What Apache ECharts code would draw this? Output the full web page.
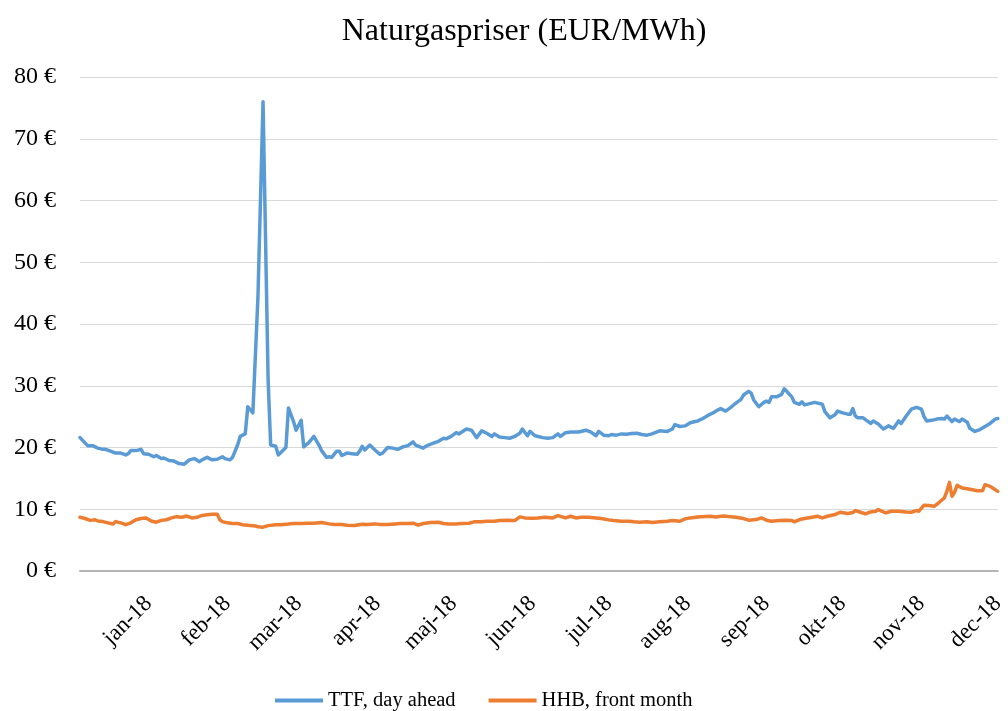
<!DOCTYPE html>
<html>
<head>
<meta charset="utf-8">
<script src="https://cdn.jsdelivr.net/npm/echarts@6/dist/echarts.min.js"></script>
<style>
html,body{margin:0;padding:0;background:#fff;}
#c{width:1008px;height:711px;}
</style>
</head>
<body>
<div id="c"></div>
<script>
// ---- data ----
const chartTitle = 'Naturgaspriser (EUR/MWh)';
const seriesNames = ['TTF, day ahead', 'HHB, front month'];
const monthNames = ['jan','feb','mar','apr','maj','jun','jul','aug','sep','okt','nov','dec'];
const monthTicks = ['2018-01-01','2018-02-01','2018-03-01','2018-04-01','2018-05-01','2018-06-01','2018-07-01','2018-08-01','2018-09-01','2018-10-01','2018-11-01','2018-12-01'];
const axisStart = '2017-12-05';
const axisEnd = '2018-12-01';
const yTicks = [0,10,20,30,40,50,60,70,80];

const ttfDates = ['2017-12-05','2017-12-08','2017-12-10','2017-12-12','2017-12-14','2017-12-15','2017-12-17','2017-12-19','2017-12-21','2017-12-23','2017-12-24','2017-12-25','2017-12-27','2017-12-29','2017-12-30',
'2018-01-01','2018-01-03','2018-01-04','2018-01-06','2018-01-07','2018-01-09','2018-01-11','2018-01-13','2018-01-15','2018-01-17','2018-01-19','2018-01-21','2018-01-22','2018-01-24','2018-01-26','2018-01-28','2018-01-30','2018-01-31',
'2018-02-02','2018-02-03','2018-02-05','2018-02-06','2018-02-08','2018-02-09','2018-02-11','2018-02-13','2018-02-15','2018-02-17','2018-02-18','2018-02-20','2018-02-21','2018-02-24','2018-02-25','2018-02-27','2018-02-28',
'2018-03-02','2018-03-03','2018-03-05','2018-03-07','2018-03-09','2018-03-10','2018-03-12','2018-03-13','2018-03-14','2018-03-16','2018-03-17','2018-03-18','2018-03-20','2018-03-22','2018-03-24','2018-03-25','2018-03-26','2018-03-27','2018-03-29','2018-03-31',
'2018-04-02','2018-04-03','2018-04-05','2018-04-07','2018-04-09','2018-04-11','2018-04-13','2018-04-15','2018-04-16','2018-04-19','2018-04-21','2018-04-23','2018-04-25','2018-04-27','2018-04-28','2018-04-30',
'2018-05-02','2018-05-03','2018-05-06','2018-05-08','2018-05-10','2018-05-12','2018-05-14','2018-05-16','2018-05-17','2018-05-19','2018-05-21','2018-05-23','2018-05-25','2018-05-27','2018-05-28','2018-05-30','2018-05-31',
'2018-06-02','2018-06-05','2018-06-07','2018-06-09','2018-06-11','2018-06-12','2018-06-14','2018-06-16','2018-06-19','2018-06-20','2018-06-22','2018-06-24','2018-06-26','2018-06-27','2018-06-29',
'2018-07-01','2018-07-02','2018-07-04','2018-07-06','2018-07-08','2018-07-10','2018-07-12','2018-07-14','2018-07-16','2018-07-18','2018-07-21','2018-07-24','2018-07-26','2018-07-27','2018-07-29','2018-07-31',
'2018-08-02','2018-08-04','2018-08-05','2018-08-07','2018-08-09','2018-08-11','2018-08-13','2018-08-14','2018-08-16','2018-08-18','2018-08-20','2018-08-22','2018-08-23','2018-08-25','2018-08-26','2018-08-27','2018-08-29','2018-08-31',
'2018-09-01','2018-09-02','2018-09-03','2018-09-05','2018-09-07','2018-09-08','2018-09-09','2018-09-11','2018-09-12','2018-09-14','2018-09-15','2018-09-16','2018-09-18','2018-09-20','2018-09-23','2018-09-24','2018-09-26','2018-09-28','2018-09-29',
'2018-10-01','2018-10-03','2018-10-04','2018-10-05','2018-10-06','2018-10-07','2018-10-09','2018-10-12','2018-10-13','2018-10-15','2018-10-16','2018-10-17','2018-10-19','2018-10-21','2018-10-23','2018-10-24','2018-10-26','2018-10-28','2018-10-30',
'2018-11-01','2018-11-02','2018-11-03','2018-11-05','2018-11-07','2018-11-09','2018-11-10','2018-11-11','2018-11-13','2018-11-14','2018-11-16','2018-11-17','2018-11-19','2018-11-20','2018-11-22','2018-11-24','2018-11-26','2018-11-28','2018-11-30','2018-12-01'];
const ttfValues = [21.6,20.3,20.3,19.9,19.7,19.7,19.4,19.1,19.1,18.8,19.0,19.5,19.5,19.7,19.0,
18.9,18.5,18.7,18.2,18.3,17.9,17.8,17.4,17.3,18.0,18.2,17.7,18.0,18.4,18.0,18.1,18.5,18.2,
18.0,18.4,20.4,21.8,22.2,26.6,25.6,44.4,76.0,30.9,20.4,20.2,18.8,20.0,26.4,24.2,22.8,
24.4,20.1,20.8,21.8,20.4,19.5,18.4,18.5,18.4,19.4,19.4,18.7,19.1,19.0,18.9,19.4,20.2,19.6,20.4,19.6,
18.9,19.1,20.0,19.9,19.7,20.1,20.3,20.9,20.4,19.9,20.4,20.7,21.0,21.5,21.4,21.8,
22.4,22.2,23.0,22.8,21.6,22.7,22.3,21.8,22.2,21.7,21.6,21.5,21.8,22.3,23.0,21.9,22.6,
21.9,21.6,21.5,21.6,22.2,21.8,22.4,22.5,22.5,22.6,22.8,22.5,21.9,22.6,22.0,
21.9,22.1,22.0,22.2,22.15,22.25,22.3,22.1,22.0,22.2,22.7,22.6,23.0,23.7,23.4,23.5,
24.0,24.2,24.3,24.7,25.2,25.6,26.1,26.3,25.9,26.5,27.2,27.8,28.5,29.1,28.8,27.7,26.6,27.3,
27.5,27.3,28.2,28.2,28.6,29.5,29.1,28.2,27.3,27.0,27.4,26.9,27.1,27.3,27.0,25.8,24.8,25.3,25.9,
25.6,25.4,25.4,26.3,25.1,24.8,24.8,23.9,24.3,23.8,23.4,23.0,23.5,23.1,24.3,23.9,25.1,26.2,26.5,
26.2,25.0,24.3,24.4,24.6,24.7,24.6,25.1,24.2,24.6,24.2,24.6,24.1,23.1,22.6,22.9,23.4,23.9,24.6,24.7];

const hhbDates = ['2017-12-05','2017-12-07','2017-12-09','2017-12-11','2017-12-12','2017-12-14','2017-12-16','2017-12-18','2017-12-19','2017-12-21','2017-12-23','2017-12-25','2017-12-27','2017-12-29','2017-12-31',
'2018-01-02','2018-01-04','2018-01-06','2018-01-08','2018-01-10','2018-01-12','2018-01-14','2018-01-16','2018-01-18','2018-01-20','2018-01-22','2018-01-24','2018-01-26','2018-01-28','2018-01-29','2018-01-30',
'2018-02-01','2018-02-03','2018-02-05','2018-02-07','2018-02-09','2018-02-12','2018-02-13','2018-02-15','2018-02-17','2018-02-20','2018-02-22','2018-02-25','2018-02-27',
'2018-03-02','2018-03-05','2018-03-07','2018-03-10','2018-03-13','2018-03-15','2018-03-18','2018-03-20','2018-03-23','2018-03-26','2018-03-28','2018-03-31',
'2018-04-02','2018-04-05','2018-04-08','2018-04-10','2018-04-13','2018-04-15','2018-04-17','2018-04-19','2018-04-22','2018-04-25','2018-04-27','2018-04-29',
'2018-05-02','2018-05-04','2018-05-07','2018-05-09','2018-05-12','2018-05-14','2018-05-17','2018-05-19','2018-05-22','2018-05-25','2018-05-27','2018-05-29',
'2018-06-01','2018-06-03','2018-06-06','2018-06-09','2018-06-11','2018-06-14','2018-06-16','2018-06-18','2018-06-20','2018-06-23','2018-06-26','2018-06-28',
'2018-07-01','2018-07-03','2018-07-06','2018-07-09','2018-07-11','2018-07-13','2018-07-16','2018-07-18','2018-07-21','2018-07-24','2018-07-26','2018-07-29','2018-07-31',
'2018-08-02','2018-08-05','2018-08-08','2018-08-10','2018-08-12','2018-08-15','2018-08-17','2018-08-20','2018-08-23','2018-08-25','2018-08-28','2018-08-30',
'2018-09-01','2018-09-03','2018-09-06','2018-09-09','2018-09-11','2018-09-12','2018-09-14','2018-09-16','2018-09-19','2018-09-21','2018-09-23','2018-09-25','2018-09-28','2018-09-30',
'2018-10-03','2018-10-05','2018-10-06','2018-10-08','2018-10-10','2018-10-12','2018-10-14','2018-10-15','2018-10-17','2018-10-18','2018-10-20','2018-10-23','2018-10-26','2018-10-28','2018-10-30','2018-10-31',
'2018-11-02','2018-11-04','2018-11-06','2018-11-08','2018-11-10','2018-11-11','2018-11-12','2018-11-13','2018-11-14','2018-11-15','2018-11-17','2018-11-19','2018-11-21','2018-11-23','2018-11-25','2018-11-26','2018-11-28','2018-11-29','2018-12-01'];
const hhbValues = [8.7,8.5,8.2,8.3,8.1,8.0,7.8,7.6,8.0,7.8,7.5,7.8,8.3,8.5,8.6,
8.1,7.9,8.2,8.3,8.6,8.8,8.7,8.9,8.6,8.7,9.0,9.1,9.2,9.2,8.3,8.0,
7.8,7.7,7.7,7.5,7.4,7.3,7.15,7.1,7.35,7.5,7.5,7.6,7.7,
7.7,7.75,7.75,7.85,7.63,7.53,7.53,7.42,7.37,7.58,7.53,7.63,
7.53,7.53,7.63,7.69,7.69,7.74,7.42,7.69,7.85,7.9,7.7,7.63,
7.63,7.69,7.74,7.96,7.96,8.06,8.06,8.17,8.23,8.17,8.76,8.6,
8.55,8.6,8.71,8.6,8.98,8.6,8.87,8.6,8.71,8.71,8.6,8.49,
8.28,8.17,8.06,8.06,7.96,7.9,7.96,7.85,7.96,8.06,8.17,8.06,8.44,
8.6,8.76,8.82,8.87,8.76,8.92,8.82,8.71,8.49,8.23,8.33,8.6,
8.23,8.06,8.17,8.23,8.17,7.96,8.33,8.49,8.71,8.87,8.6,8.87,9.14,9.52,
9.3,9.46,9.78,9.52,9.25,9.57,9.68,9.95,9.57,9.41,9.68,9.68,9.57,9.52,9.78,9.68,
10.65,10.59,10.48,11.13,11.83,12.9,14.35,12.1,12.74,13.87,13.44,13.33,13.17,13.01,13.01,13.98,13.71,13.44,12.9];

// ---- chart ----
const FONT = '"Liberation Serif","DejaVu Serif",serif';
const toTime = s => { const p = s.split('-'); return Date.UTC(+p[0], +p[1]-1, +p[2]); };
const toPairs = (d, v) => d.map((x, i) => [toTime(x), v[i]]);
const tickTimes = monthTicks.map(toTime);

const chart = echarts.init(document.getElementById('c'), null, {renderer: 'canvas'});
chart.setOption({
  animation: false,
  backgroundColor: '#ffffff',
  title: {
    text: chartTitle,
    left: 519, top: 11, textAlign: 'center',
    textStyle: {fontFamily: FONT, fontSize: 32, fontWeight: 'normal', color: '#000'}
  },
  legend: {
    data: seriesNames,
    left: 270, top: 685,
    icon: 'rect', itemWidth: 48, itemHeight: 4, itemGap: 33,
    textStyle: {fontFamily: FONT, fontSize: 20.5, color: '#000'}
  },
  grid: {left: 80, right: 5, top: 77, bottom: 140},
  xAxis: {
    type: 'value',
    min: toTime(axisStart), max: toTime(axisEnd),
    axisLine: {show: true, lineStyle: {color: '#b4b4b4', width: 2}},
    axisTick: {show: false},
    splitLine: {show: false},
    axisLabel: {
      customValues: tickTimes,
      rotate: 45, margin: 29, hideOverlap: false,
      fontFamily: FONT, fontSize: 23, color: '#000',
      formatter: function (val) {
        const d = new Date(val);
        return monthNames[d.getUTCMonth()] + '-' + String(d.getUTCFullYear()).slice(2);
      }
    }
  },
  yAxis: {
    type: 'value', min: yTicks[0], max: yTicks[yTicks.length-1], interval: 10,
    axisLine: {show: false}, axisTick: {show: false},
    splitLine: {lineStyle: {color: '#d9d9d9', width: 1}},
    axisLabel: {
      margin: 24, fontFamily: FONT, fontSize: 24, color: '#000',
      formatter: v => v + ' €'
    }
  },
  series: [
    {name: seriesNames[0], type: 'line', data: toPairs(ttfDates, ttfValues), showSymbol: false, symbol: 'none',
     lineStyle: {color: '#5B9BD5', width: 3.5, join: 'round', cap: 'round'}, itemStyle: {color: '#5B9BD5'}},
    {name: seriesNames[1], type: 'line', data: toPairs(hhbDates, hhbValues), showSymbol: false, symbol: 'none',
     lineStyle: {color: '#ED7D31', width: 3.5, join: 'round', cap: 'round'}, itemStyle: {color: '#ED7D31'}}
  ]
});
</script>
</body>
</html>
